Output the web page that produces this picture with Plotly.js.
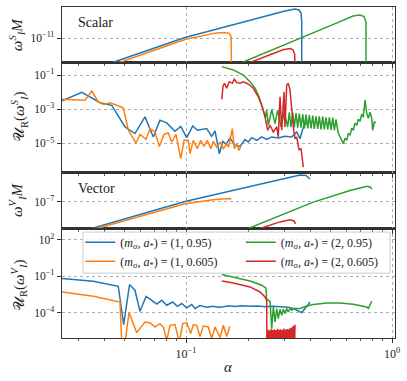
<!DOCTYPE html>
<html>
<head>
<meta charset="utf-8">
<script src="https://cdn.plot.ly/plotly-3.0.1.min.js"></script>
<style>
  html, body { margin: 0; padding: 0; background: #fff; }
  #graph { width: 407px; height: 381px; }
</style>
</head>
<body>
<div id="graph"></div>
<script>
// series labels and colours (order: (1,0.95), (1,0.605), (2,0.95), (2,0.605))
const names = [
  "(<i>m</i><sub>σ</sub>, <i>a</i><sub>*</sub>) = (1, 0.95)",
  "(<i>m</i><sub>σ</sub>, <i>a</i><sub>*</sub>) = (1, 0.605)",
  "(<i>m</i><sub>σ</sub>, <i>a</i><sub>*</sub>) = (2, 0.95)",
  "(<i>m</i><sub>σ</sub>, <i>a</i><sub>*</sub>) = (2, 0.605)"
];
const colors = ["#1f77b4", "#ff7f0e", "#2ca02c", "#d62728"];
const legendOf = ["legend", "legend", "legend2", "legend2"];

const xMajor = [0.1, 1];
const xMajorText = ["10<sup>−1</sup>", "10<sup>0</sup>"];
const xMinor = [0.03, 0.04, 0.05, 0.06, 0.07, 0.08, 0.09, 0.2, 0.3, 0.4, 0.5, 0.6, 0.7, 0.8, 0.9];

// scalar: omega_I M
const sw1x = [0.025, 0.0443, 0.0989, 0.2045, 0.3023, 0.338, 0.3535, 0.3617, 0.3645, 0.3645];
const sw1y = [2.0e-18, 1.2e-15, 1.32e-11, 8.9e-9, 2.6e-7, 5.6e-7, 3.9e-7, 1.26e-7, 4.2e-9, 1.3e-18];
const sw2x = [0.025, 0.0478, 0.0989, 0.1383, 0.153, 0.1617, 0.1654, 0.1667, 0.1667];
const sw2y = [9.3e-19, 1.2e-15, 6.2e-12, 6.7e-11, 8.7e-11, 6.7e-11, 2.1e-11, 7.2e-13, 1.3e-18];
const sw3x = [0.1546, 0.1884, 0.3576, 0.5594, 0.6464, 0.6992, 0.7313, 0.7478, 0.7478];
const sw3y = [7.8e-17, 1.2e-15, 9.1e-12, 5.1e-9, 4.1e-8, 5.9e-8, 3.3e-8, 4.2e-9, 1.3e-18];
const sw4x = [0.1829, 0.2045, 0.2558, 0.2957, 0.3199, 0.3307, 0.3371, 0.338];
const sw4y = [2.7e-16, 1.2e-15, 2.4e-14, 1.3e-13, 2.1e-13, 1.3e-13, 2.4e-14, 1.3e-18];

// scalar: U_R(omega_I^S)
const su1x = [0.025, 0.0312, 0.0383, 0.0436, 0.0506, 0.0565, 0.0632, 0.0694, 0.0747, 0.0806, 0.0884, 0.0943, 0.1008, 0.1078, 0.1135, 0.126, 0.1333, 0.1383, 0.1451, 0.1508, 0.1564, 0.1635, 0.1729, 0.1829, 0.1933, 0.2006, 0.2084, 0.2204, 0.2331, 0.2464, 0.2606, 0.2805, 0.3023, 0.3259, 0.3446, 0.3576, 0.3711, 0.3854];
const su1y = [3.1e-3, 9.7e-3, 2.4e-3, 1.7e-3, 9.2e-5, 3.8e-5, 3.6e-4, 2.4e-5, 2.3e-4, 1.6e-4, 5.2e-5, 1.0e-4, 2.2e-5, 1.06e-4, 5.9e-5, 7.4e-5, 2.6e-5, 5.4e-5, 2.5e-6, 1.33e-5, 8.9e-6, 2.1e-5, 7.7e-6, 6.7e-6, 1.67e-5, 1.21e-5, 2.2e-5, 1.52e-5, 2.4e-5, 1.74e-5, 2.4e-5, 2.1e-5, 2.6e-5, 2.4e-5, 4.7e-5, 1.9e-5, 9.2e-5, 1.8e-4];
const su2x = [0.025, 0.0323, 0.0349, 0.0375, 0.0397, 0.0428, 0.0496, 0.0525, 0.0572, 0.0598, 0.064, 0.0669, 0.0707, 0.0742, 0.0782, 0.082, 0.0852, 0.0894, 0.0943, 0.0978, 0.1026, 0.1045, 0.1085, 0.1135, 0.1178, 0.1223, 0.1269, 0.1318, 0.1357, 0.1409, 0.1462, 0.1518, 0.1576, 0.1608, 0.1635, 0.1678, 0.1716, 0.1762, 0.1808, 0.1849];
const su2y = [3.9e-3, 3.4e-3, 1.16e-2, 2.7e-3, 1.9e-3, 2.4e-3, 1.2e-3, 5.9e-5, 1.06e-5, 3.4e-5, 1.74e-5, 7.4e-5, 4.7e-5, 6.7e-6, 3.4e-5, 4.1e-5, 1.21e-5, 3.4e-5, 1.28e-6, 1.52e-5, 1.52e-5, 2.5e-6, 1.52e-5, 4.9e-6, 1.52e-5, 6.7e-6, 1.52e-5, 4.9e-6, 1.33e-5, 6.1e-6, 1.21e-5, 4.9e-6, 9.7e-6, 6.1e-6, 1.52e-5, 7.4e-5, 4.9e-6, 9.7e-6, 3.9e-6, 6.7e-6];
const su3x = [0.1491, 0.1697, 0.1897, 0.2045, 0.2163, 0.2244, 0.2331, 0.2391, 0.2431, 0.2464,
  0.2509, 0.2606, 0.2704, 0.2787, 0.2892, 0.3000, 0.3116, 0.3172, 0.3233, 0.3296,
  0.3355, 0.3420, 0.3485, 0.3548, 0.3617, 0.3685, 0.3752, 0.3825, 0.3898, 0.3968,
  0.4044, 0.4121, 0.4196, 0.4276, 0.4357, 0.4436, 0.4521, 0.4608, 0.4691, 0.4782,
  0.4874, 0.4962, 0.5057, 0.5155, 0.5248, 0.5348, 0.5469, 0.5594, 0.5701, 0.5804,
  0.5914, 0.6028, 0.6137, 0.6253, 0.6373, 0.6487, 0.6612, 0.6739, 0.6861, 0.6993,
  0.7127, 0.7256, 0.7396, 0.7538, 0.7674, 0.7820, 0.7969, 0.8057, 0.8205, 0.8334];
const su3y = [0.312, 0.2, 0.101, 0.041, 0.0174, 6.7e-3, 1.74e-3, 6.7e-4, 3.4e-4, 8.9e-4,
  1.16e-4, 9.7e-4, 1.46e-4, 8.9e-4, 9.2e-5, 7.0e-4, 9.2e-5, 6.7e-4, 8.9e-5, 6.3e-4,
  8.9e-5, 5.9e-4, 8.3e-5, 5.5e-4, 8.3e-5, 5.2e-4, 7.7e-5, 4.8e-4, 7.7e-5, 4.5e-4,
  7.7e-5, 4.2e-4, 7.2e-5, 3.9e-4, 7.2e-5, 3.9e-4, 6.7e-5, 3.7e-4, 6.7e-5, 3.4e-4,
  6.7e-5, 3.4e-4, 6.3e-5, 3.2e-4, 5.9e-5, 2.6e-4, 4.7e-5, 2.4e-5, 1.33e-5, 9.7e-6,
  2.0e-5, 1.52e-5, 3.9e-5, 3.0e-5, 7.7e-5, 5.9e-5, 1.52e-4, 1.16e-4, 2.6e-4, 2.0e-4,
  5.2e-4, 3.4e-4, 3.4e-3, 5.9e-4, 3.0e-4, 6.7e-4, 3.0e-4, 5.9e-5, 1.8e-4, 1.6e-4];
const su4x = [0.1491, 0.1513, 0.1538, 0.1576, 0.1623, 0.1678, 0.1716, 0.1762, 0.1829, 0.1897,
  0.2006, 0.2122, 0.2244, 0.2331, 0.2418, 0.2492, 0.2558, 0.2654, 0.2757, 0.2805,
  0.2860, 0.2915, 0.2990, 0.3023, 0.3082, 0.3137, 0.3199, 0.3259, 0.3319, 0.3380,
  0.3446, 0.3535, 0.3617, 0.3711];
const su4y = [3.8e-3, 2.3e-2, 3.3e-2, 1.7e-2, 4.1e-2, 3.3e-2, 5.7e-2, 3.6e-2, 3.3e-2, 4.1e-2,
  3.0e-2, 1.7e-2, 5.4e-3, 1.74e-3, 3.6e-4, 5.9e-5, 1.16e-4, 4.7e-5, 9.2e-5, 2.4e-5,
  5.4e-3, 5.9e-5, 1.06e-2, 9.2e-5, 2.6e-2, 3.3e-2, 1.33e-2, 8.9e-4, 9.2e-5, 1.9e-5,
  2.4e-5, 4.3e-6, 4.9e-6, 4.1e-7];

// vector: omega_I M
const vw1x = [0.025, 0.0349, 0.0989, 0.2045, 0.3199, 0.3576, 0.3825, 0.3955, 0.3999];
const vw1y = [3.6e-12, 4.3e-11, 1.0e-7, 7.6e-6, 1.17e-4, 2.08e-4, 1.8e-4, 1.01e-4, 6.6e-5];
const vw2x = [0.025, 0.0369, 0.0989, 0.1383, 0.1564, 0.1635, 0.1654];
const vw2y = [2.5e-12, 4.3e-11, 5.2e-8, 1.8e-7, 2.6e-7, 2.4e-7, 1.8e-7];
const vw3x = [0.1635, 0.2006, 0.415, 0.6253, 0.715, 0.7563, 0.7819, 0.7996];
const vw3y = [5.1e-12, 4.3e-11, 8.3e-8, 2.4e-6, 6.6e-6, 8.3e-6, 6.6e-6, 3.7e-6];
const vw4x = [0.1933, 0.2287, 0.286, 0.3199, 0.3344, 0.3401];
const vw4y = [1.0e-11, 4.3e-11, 2.8e-10, 5.2e-10, 3.7e-10, 1.6e-10];

// vector: U_R(omega_I^V)
const vu1x = [0.025, 0.0355, 0.0469, 0.0498, 0.0532, 0.0565, 0.0598, 0.064, 0.0682, 0.0721,
  0.0762, 0.0806, 0.0862, 0.0907, 0.0953, 0.1008, 0.1066, 0.1106, 0.1169, 0.126,
  0.1357, 0.143, 0.1518, 0.1617, 0.1729, 0.187, 0.2045, 0.2236, 0.2418, 0.2616,
  0.286, 0.3127, 0.3344, 0.3645, 0.3825, 0.3999];
const vu1y = [0.065, 0.039, 0.0152, 1.13e-5, 0.021, 7.2e-3, 1.38e-4, 2.3e-3, 1.09e-3, 5.4e-4,
  1.09e-3, 4.3e-4, 7.9e-4, 3.5e-4, 5.9e-4, 2.6e-4, 4.9e-4, 2.3e-4, 4.0e-4, 2.9e-4,
  3.5e-4, 2.9e-4, 3.3e-4, 3.9e-4, 3.4e-4, 3.9e-4, 3.5e-4, 3.7e-4, 3.3e-4, 3.5e-4,
  3.2e-4, 3.0e-4, 2.2e-4, 1.08e-4, 2.9e-4, 7.9e-4];
const vu2x = [0.025, 0.0355, 0.0478, 0.0492, 0.0529, 0.0576, 0.0632, 0.0669, 0.0707, 0.0747,
  0.0777, 0.0806, 0.0836, 0.0884, 0.0928, 0.0964, 0.1008, 0.1054, 0.1085, 0.1127,
  0.1169, 0.1213, 0.1283, 0.1333, 0.1383, 0.1462, 0.1518, 0.1576, 0.1635];
const vu2y = [5.2e-3, 2.3e-3, 7.9e-4, 1.4e-8, 1.08e-4, 2.5e-6, 1.84e-5, 1.52e-5, 7.2e-6, 1.36e-5,
  6.8e-6, 5.7e-7, 9.9e-6, 1.13e-5, 4e-7, 1.36e-5, 1.64e-5, 2.1e-6, 1.13e-5, 9.9e-6,
  1.2e-6, 8.6e-6, 7.2e-6, 8.5e-7, 7.2e-6, 1.0e-6, 9.9e-6, 1.2e-6, 8.2e-6];
const vu3x = [0.1491, 0.1697, 0.2045, 0.2331, 0.2445, 0.2464, 0.2509, 0.2558, 0.2606, 0.2654,
  0.2704, 0.2757, 0.2805, 0.286, 0.2915, 0.2967, 0.3023, 0.3082, 0.3137, 0.3199,
  0.3259, 0.3319, 0.3576, 0.3854, 0.415, 0.482, 0.5594, 0.6487, 0.7538, 0.7674, 0.7969];
const vu3y = [0.138, 0.088, 0.041, 0.0184, 0.0105, 1.32e-3, 1.09e-3, 9.1e-4, 5.3e-6, 3.1e-4,
  1.84e-5, 2.3e-4, 3.5e-5, 2.0e-4, 6.5e-5, 2.0e-4, 8.9e-5, 2.3e-4, 1.25e-4, 2.4e-4,
  1.66e-4, 2.3e-4, 2.3e-4, 3.7e-4, 4.9e-4, 6.6e-4, 6.6e-4, 5.1e-4, 3.1e-4, 2.3e-4, 9.1e-4];
const vu4x = [0.1491, 0.1697, 0.2045, 0.2287, 0.2418, 0.2464,
  0.2472, 0.2494, 0.2517, 0.2539, 0.2562, 0.2585, 0.2608, 0.2632, 0.2655, 0.2679,
  0.2703, 0.2728, 0.2752, 0.2777, 0.2802, 0.2827, 0.2853, 0.2878, 0.2904, 0.2930,
  0.2957, 0.2983, 0.3010, 0.3037, 0.3065, 0.3092, 0.3120, 0.3148, 0.3177, 0.3205,
  0.3234, 0.3263, 0.3293, 0.3322, 0.3352, 0.3382];
const vu4y = [0.041, 0.0284, 0.0134, 5.2e-3, 2.0e-3, 1.09e-3,
  2e-8, 4.5e-6, 1e-8, 3.8e-6, 3e-8, 5e-6, 1e-8, 4e-6, 2e-8, 4.6e-6,
  1e-8, 3.9e-6, 2e-8, 5.2e-6, 1e-8, 4.2e-6, 3e-8, 4.8e-6, 1e-8, 4.1e-6,
  2e-8, 5.4e-6, 1e-8, 4.4e-6, 2e-8, 5e-6, 1e-8, 4.6e-6, 2e-8, 6e-6,
  1e-8, 7e-6, 2e-8, 9e-6, 1e-8, 1.1e-5];

const serif = "Liberation Serif, DejaVu Serif, serif";
const axisColor = "#333";

function line(x, y, i, xa, ya, legend) {
  return {
    x: x, y: y, type: "scatter", mode: "lines",
    line: { color: colors[i], width: 1.5 },
    name: names[i], showlegend: legend, legend: legendOf[i],
    xaxis: xa, yaxis: ya, hoverinfo: "skip"
  };
}

const data = [
  line(sw1x, sw1y, 0, "x4", "y4", false),
  line(sw2x, sw2y, 1, "x4", "y4", false),
  line(sw3x, sw3y, 2, "x4", "y4", false),
  line(sw4x, sw4y, 3, "x4", "y4", false),
  line(su1x, su1y, 0, "x3", "y3", false),
  line(su2x, su2y, 1, "x3", "y3", false),
  line(su3x, su3y, 2, "x3", "y3", false),
  line(su4x, su4y, 3, "x3", "y3", false),
  line(vw1x, vw1y, 0, "x2", "y2", false),
  line(vw2x, vw2y, 1, "x2", "y2", false),
  line(vw3x, vw3y, 2, "x2", "y2", false),
  line(vw4x, vw4y, 3, "x2", "y2", false),
  line(vu1x, vu1y, 0, "x", "y", true),
  line(vu2x, vu2y, 1, "x", "y", true),
  line(vu3x, vu3y, 2, "x", "y", true),
  line(vu4x, vu4y, 3, "x", "y", true)
];

function xAxis(anchor, labels) {
  return {
    type: "log", anchor: anchor, range: [Math.log10(0.025), Math.log10(1.034)],
    matches: anchor === "y" ? undefined : "x",
    tickmode: "array", tickvals: xMajor, ticktext: xMajorText,
    showticklabels: labels, ticks: "outside", ticklen: 4, tickwidth: 1, tickcolor: axisColor,
    minor: { tickmode: "array", tickvals: xMinor, ticks: "outside", ticklen: 2, tickwidth: 0.8, tickcolor: axisColor, showgrid: false },
    showline: true, linecolor: axisColor, linewidth: 1.3, mirror: true,
    showgrid: true, gridcolor: "#b0b0b0", griddash: "dot", gridwidth: 1,
    zeroline: false, tickfont: { family: serif, size: 12, color: "#222" }
  };
}

function yAxis(anchor, domain, range, vals, text) {
  return {
    type: "log", anchor: anchor, domain: domain, range: range,
    tickmode: "array", tickvals: vals, ticktext: text,
    ticks: "outside", ticklen: 4, tickwidth: 1, tickcolor: axisColor,
    showline: true, linecolor: axisColor, linewidth: 1.3, mirror: true,
    showgrid: true, gridcolor: "#b0b0b0", griddash: "dot", gridwidth: 1,
    zeroline: false, tickfont: { family: serif, size: 11.5, color: "#222" }
  };
}

function ann(text, x, y, size, angle, anchor) {
  return {
    text: text, xref: "paper", yref: "paper", x: x, y: y,
    xanchor: anchor || "center", yanchor: "middle", showarrow: false,
    textangle: angle || 0, font: { family: serif, size: size, color: "#222" }
  };
}

function legendBox(x) {
  return {
    x: x, y: 0.333, xanchor: "left", yanchor: "top",
    bgcolor: "rgba(0,0,0,0)", borderwidth: 0, tracegroupgap: 0,
    font: { family: serif, size: 12, color: "#222" }
  };
}

const layout = {
  width: 407, height: 381,
  margin: { l: 62, r: 12, t: 7, b: 43 },
  paper_bgcolor: "#fff", plot_bgcolor: "#fff",
  showlegend: true,
  xaxis: xAxis("y", true),
  xaxis2: xAxis("y2", false),
  xaxis3: xAxis("y3", false),
  xaxis4: xAxis("y4", false),
  yaxis: yAxis("x", [0, 0.331], [-6.04, 2.9], [1e2, 1e-1, 1e-4], ["10<sup>2</sup>", "10<sup>−1</sup>", "10<sup>−4</sup>"]),
  yaxis2: yAxis("x2", [0.331, 0.5], [-10.37, -3.37], [1e-7], ["10<sup>−7</sup>"]),
  yaxis3: yAxis("x3", [0.5, 0.833], [-6.7, -0.25], [1e-1, 1e-3, 1e-5], ["10<sup>−1</sup>", "10<sup>−3</sup>", "10<sup>−5</sup>"]),
  yaxis4: yAxis("x4", [0.833, 1], [-14.92, -5.92], [1e-11], ["10<sup>−11</sup>"]),
  legend: legendBox(0.055),
  legend2: legendBox(0.537),
  shapes: [{
    type: "rect", xref: "paper", yref: "paper",
    x0: 0.063, x1: 0.985, y0: 0.196, y1: 0.32,
    fillcolor: "rgba(255,255,255,0.8)", line: { color: "#cccccc", width: 1 }, layer: "above"
  }],
  annotations: [
    ann("Scalar", 0.042, 0.952, 14, 0, "left"),
    ann("Vector", 0.042, 0.453, 14, 0, "left"),
    ann("<i>ω</i><sup><i>S</i></sup><sub><i>I</i></sub><i>M</i>", -0.135, 0.915, 15, -90),
    ann("𝒰<sub>R</sub>(<i>ω</i><sup><i>S</i></sup><sub><i>I</i></sub>)", -0.129, 0.668, 15, -90),
    ann("<i>ω</i><sup><i>V</i></sup><sub><i>I</i></sub><i>M</i>", -0.135, 0.417, 15, -90),
    ann("𝒰<sub>R</sub>(<i>ω</i><sup><i>V</i></sup><sub><i>I</i></sub>)", -0.129, 0.160, 15, -90),
    ann("<i>α</i>", 0.5, -0.088, 15, 0)
  ]
};

Plotly.newPlot("graph", data, layout, { displayModeBar: false, staticPlot: true });
</script>
</body>
</html>
